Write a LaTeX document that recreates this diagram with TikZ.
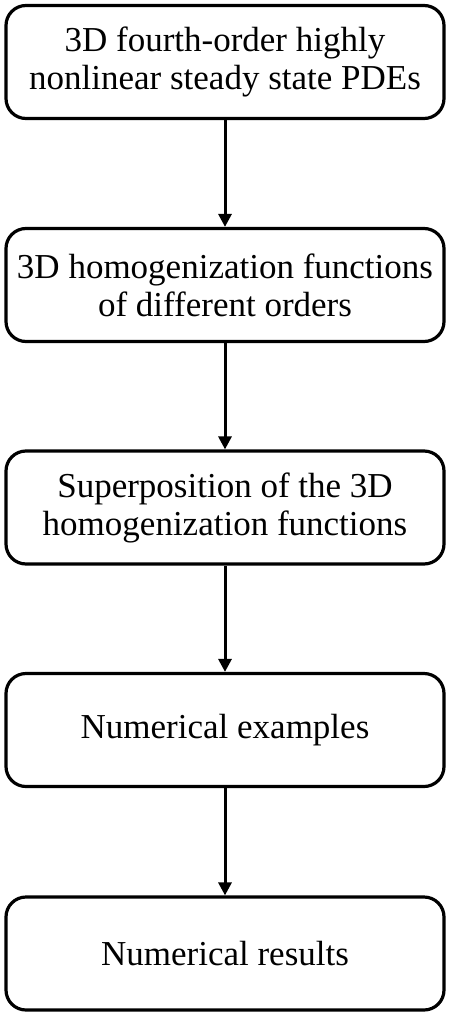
\documentclass[tikz,border=0pt]{standalone}
\usepackage{fontspec}
\setmainfont{Liberation Serif}
\usetikzlibrary{arrows.meta}
\begin{document}
\begin{tikzpicture}[x=1pt,y=-1pt,
  stepbox/.style={draw=black,line width=3.2pt,rounded corners=20pt,minimum width=438pt,minimum height=113pt,align=center,inner sep=0pt,font=\fontsize{35}{38}\selectfont},
  conn/.style={line width=3pt,-{Triangle[length=13pt,width=13pt]}}]
\useasboundingbox (0,0) rectangle (450,1017);
\node[stepbox] (b1) at (225,62) {3D fourth-order highly\\nonlinear steady state PDEs};
\node[stepbox] (b2) at (225,285) {3D homogenization functions\\of different orders};
\node[stepbox] (b3) at (225,507.5) {Superposition of the 3D\\homogenization functions};
\node[stepbox] (b4) at (225,730) {Numerical examples};
\node[stepbox] (b5) at (225,953.5) {Numerical results};
\draw[conn] (b1) -- (b2);
\draw[conn] (b2) -- (b3);
\draw[conn] (b3) -- (b4);
\draw[conn] (b4) -- (b5);
\end{tikzpicture}
\end{document}
